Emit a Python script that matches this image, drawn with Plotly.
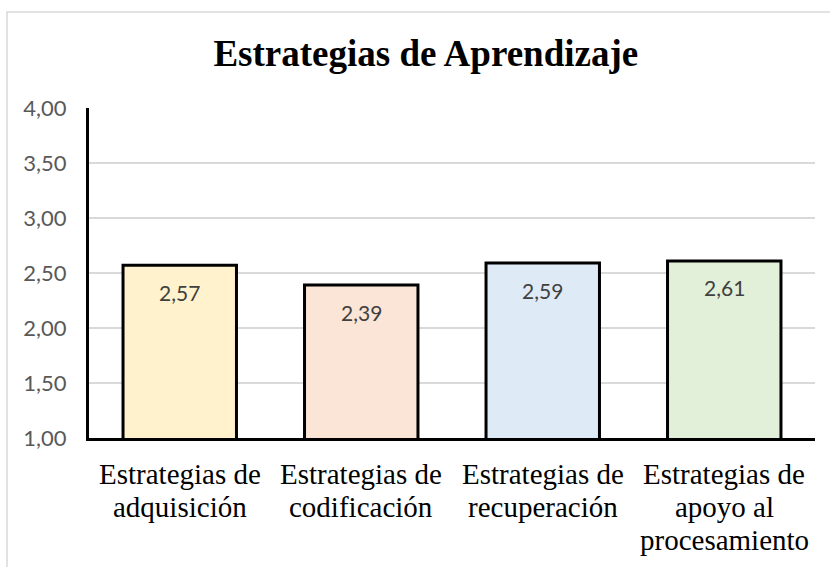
import plotly.graph_objects as go

categories = [
    "Estrategias de adquisición",
    "Estrategias de codificación",
    "Estrategias de recuperación",
    "Estrategias de apoyo al procesamiento",
]
category_lines = [
    ["Estrategias de", "adquisición"],
    ["Estrategias de", "codificación"],
    ["Estrategias de", "recuperación"],
    ["Estrategias de", "apoyo al", "procesamiento"],
]
values = [2.57, 2.39, 2.59, 2.61]
bar_colors = ["#FFF2CC", "#FBE5D6", "#DEEBF7", "#E2F0D9"]
y_ticks = [1.0, 1.5, 2.0, 2.5, 3.0, 3.5, 4.0]
y_ticklabels = ["1,00", "1,50", "2,00", "2,50", "3,00", "3,50", "4,00"]
value_labels = ["2,57", "2,39", "2,59", "2,61"]

W, H = 830, 567
ML, MR, MT, MB = 89, 15, 108, 129

fig = go.Figure()
fig.add_trace(go.Bar(
    x=categories,
    y=values,
    marker=dict(color=bar_colors, line=dict(color="black", width=3)),
    hoverinfo="skip",
))

for c, v, t in zip(categories, values, value_labels):
    fig.add_annotation(x=c, y=v, text=t, showarrow=False, yshift=-27,
                       yanchor="middle", xanchor="center",
                       font=dict(family="Lato", size=21, color="#404040"))

LINE_H = 33
for c, lines in zip(categories, category_lines):
    for i, line in enumerate(lines):
        fig.add_annotation(x=c, y=0, yref="paper", text=line, showarrow=False,
                           yanchor="middle", xanchor="center",
                           yshift=-(36 + i * LINE_H),
                           font=dict(family="Liberation Serif", size=29, color="black"))

pw = W - ML - MR
ph = H - MT - MB
fig.add_shape(type="rect", xref="paper", yref="paper", layer="below",
              x0=(7 - ML) / pw, x1=(W + 20 - ML) / pw,
              y0=-(H + 20 - (H - MB)) / ph, y1=(H - MB - 12) / ph,
              line=dict(color="#D9D9D9", width=1.5), fillcolor="rgba(0,0,0,0)")

fig.update_layout(
    width=W, height=H,
    margin=dict(l=ML, r=MR, t=MT, b=MB, autoexpand=False),
    paper_bgcolor="white", plot_bgcolor="white",
    separators=",.",
    bargap=0.375,
    showlegend=False,
    title=dict(text="<b>Estrategias de Aprendizaje</b>", x=0.513, xanchor="center",
               y=1 - 53 / H, yanchor="middle", yref="container",
               font=dict(family="Liberation Serif", size=37, color="black")),
    xaxis=dict(showline=True, linecolor="black", linewidth=3, ticks="",
               showticklabels=False, showgrid=False),
    yaxis=dict(range=[1, 4], tickvals=y_ticks, ticktext=y_ticklabels,
               showline=True, linecolor="black", linewidth=3, ticks="",
               showgrid=True, gridcolor="#D9D9D9", gridwidth=1.5,
               zeroline=False, ticklabelstandoff=15,
               tickfont=dict(family="Lato", size=22, color="#595959")),
)

fig.write_html("out.html", config={"displayModeBar": False},
               post_script="document.body.style.margin='0';")
